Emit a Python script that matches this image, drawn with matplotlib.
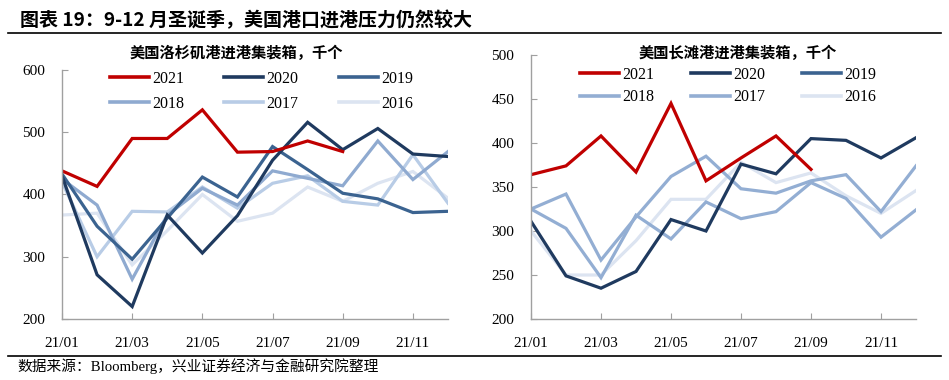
import numpy as np
import matplotlib
matplotlib.use('Agg')
import matplotlib.pyplot as plt
from matplotlib.lines import Line2D

#------------------------------------------------------------------------------
# Dados (mil contêineres por mês).
meses = ['21/01', '21/02', '21/03', '21/04', '21/05', '21/06',
         '21/07', '21/08', '21/09', '21/10', '21/11', '21/12']
anos = ['2021', '2020', '2019', '2018', '2017', '2016']

# Los Angeles
la_2021 = [438, 413, 490, 490, 536, 468, 469, 486, 469]
la_2020 = [430, 271, 220, 367, 306, 366, 455, 516, 472, 506, 465, 461]
la_2019 = [433, 349, 296, 362, 428, 396, 477, 440, 402, 393, 371, 373]
la_2018 = [425, 383, 264, 367, 410, 383, 438, 426, 414, 486, 424, 469]
la_2017 = [420, 300, 373, 372, 412, 378, 418, 430, 389, 383, 464, 386]
la_2016 = [367, 370, 287, 342, 400, 357, 370, 412, 389, 418, 437, 394]

# Long Beach (2019 sem dados no gráfico)
lb_2021 = [364, 374, 408, 367, 445, 357, 383, 408, 370]
lb_2020 = [311, 249, 235, 254, 313, 300, 376, 365, 405, 403, 383, 406]
lb_2019 = []
lb_2018 = [325, 342, 267, 316, 362, 385, 348, 343, 357, 364, 322, 374]
lb_2017 = [325, 303, 247, 318, 291, 333, 314, 322, 355, 337, 293, 324]
lb_2016 = [300, 250, 250, 289, 336, 336, 378, 355, 366, 340, 320, 346]

cores_la = ['#C00000', '#1F3A5F', '#3B6390', '#8FAAD0', '#B8CCE6', '#DCE4F1']
cores_lb = ['#C00000', '#1F3A5F', '#3B6390', '#93AED3', '#93AED3', '#DCE4F1']

SERIF = ['Liberation Serif', 'Noto Sans CJK SC']
CJK = ['Noto Sans CJK SC', 'DejaVu Sans']


#------------------------------------------------------------------------------
def painel(ax, series, cores, ymin, ymax, passo, subtitulo, x_sub, y_sub,
           leg_x, leg_y, colsp, labsp):
    fig = ax.figure
    x = np.arange(len(meses))
    # desenha do mais antigo ao mais recente (2021 por cima)
    for dados, cor in list(zip(series, cores))[::-1]:
        ax.plot(x[:len(dados)], dados, color=cor, lw=2.3, solid_joinstyle='miter')

    ax.set_xlim(0, len(meses) - 1)
    ax.set_ylim(ymin, ymax)
    ax.set_yticks(np.arange(ymin, ymax + 1, passo))
    ax.set_xticks(x[::2])
    ax.set_xticklabels(meses[::2])
    for s in ['top', 'right']:
        ax.spines[s].set_visible(False)
    for s in ['left', 'bottom']:
        ax.spines[s].set_color('#A0A0A0')
        ax.spines[s].set_linewidth(1.0)
    ax.tick_params(direction='in', length=4, width=0.8, color='#A0A0A0',
                   labelsize=11)
    ax.tick_params(axis='x', pad=13)
    ax.tick_params(axis='y', pad=12)
    for lab in ax.get_xticklabels() + ax.get_yticklabels():
        lab.set_fontfamily(SERIF)

    fig.text(x_sub, y_sub, subtitulo, ha='center', va='center',
             fontsize=11, fontweight='bold', family=CJK)

    handles = [Line2D([], [], color=c, lw=2.6) for c in cores]
    ordem = [0, 3, 1, 4, 2, 5]
    leg = fig.legend([handles[i] for i in ordem], [anos[i] for i in ordem],
                     ncol=3, loc='upper left', bbox_to_anchor=(leg_x, leg_y),
                     bbox_transform=fig.transFigure, frameon=False,
                     borderpad=0, borderaxespad=0, handlelength=2.45,
                     handletextpad=0.2, columnspacing=colsp, labelspacing=labsp,
                     prop={'family': SERIF, 'size': 11.5})
    return leg


#------------------------------------------------------------------------------
if __name__ == '__main__':

    fig = plt.figure(figsize=(9.49, 3.8), dpi=100)
    H = 380.0
    W = 949.0

    ax1 = fig.add_axes([62 / W, 1 - 319 / H, (448 - 62) / W, (319 - 70) / H])
    ax2 = fig.add_axes([531 / W, 1 - 319 / H, (916 - 531) / W, (319 - 55) / H])

    painel(ax1, [la_2021, la_2020, la_2019, la_2018, la_2017, la_2016],
           cores_la, 200, 600, 100, '美国洛杉矶港进港集装箱，千个',
           236 / W, 1 - 53 / H, 110 / W, 1 - 71 / H, 2.5, 0.55)
    painel(ax2, [lb_2021, lb_2020, lb_2019, lb_2018, lb_2017, lb_2016],
           cores_lb, 200, 500, 50, '美国长滩港进港集装箱，千个',
           738 / W, 1 - 53 / H, 580 / W, 1 - 67 / H, 2.3, 0.4)

    # Título e fonte
    fig.text(20 / W, 1 - 20 / H, '图表 19：9-12 月圣诞季，美国港口进港压力仍然较大',
             ha='left', va='center', fontsize=13.7, fontweight='bold', family=CJK)
    fig.add_artist(Line2D([8 / W, 941 / W], [1 - 33 / H, 1 - 33 / H],
                          color='black', lw=1.2, transform=fig.transFigure))
    fig.add_artist(Line2D([8 / W, 941 / W], [1 - 355.5 / H, 1 - 355.5 / H],
                          color='black', lw=1.2, transform=fig.transFigure))
    fig.text(17 / W, 1 - 366 / H, '数据来源：Bloomberg，兴业证券经济与金融研究院整理',
             ha='left', va='center', fontsize=10.6, family=SERIF)

    fig.savefig('out.png', dpi=100)
